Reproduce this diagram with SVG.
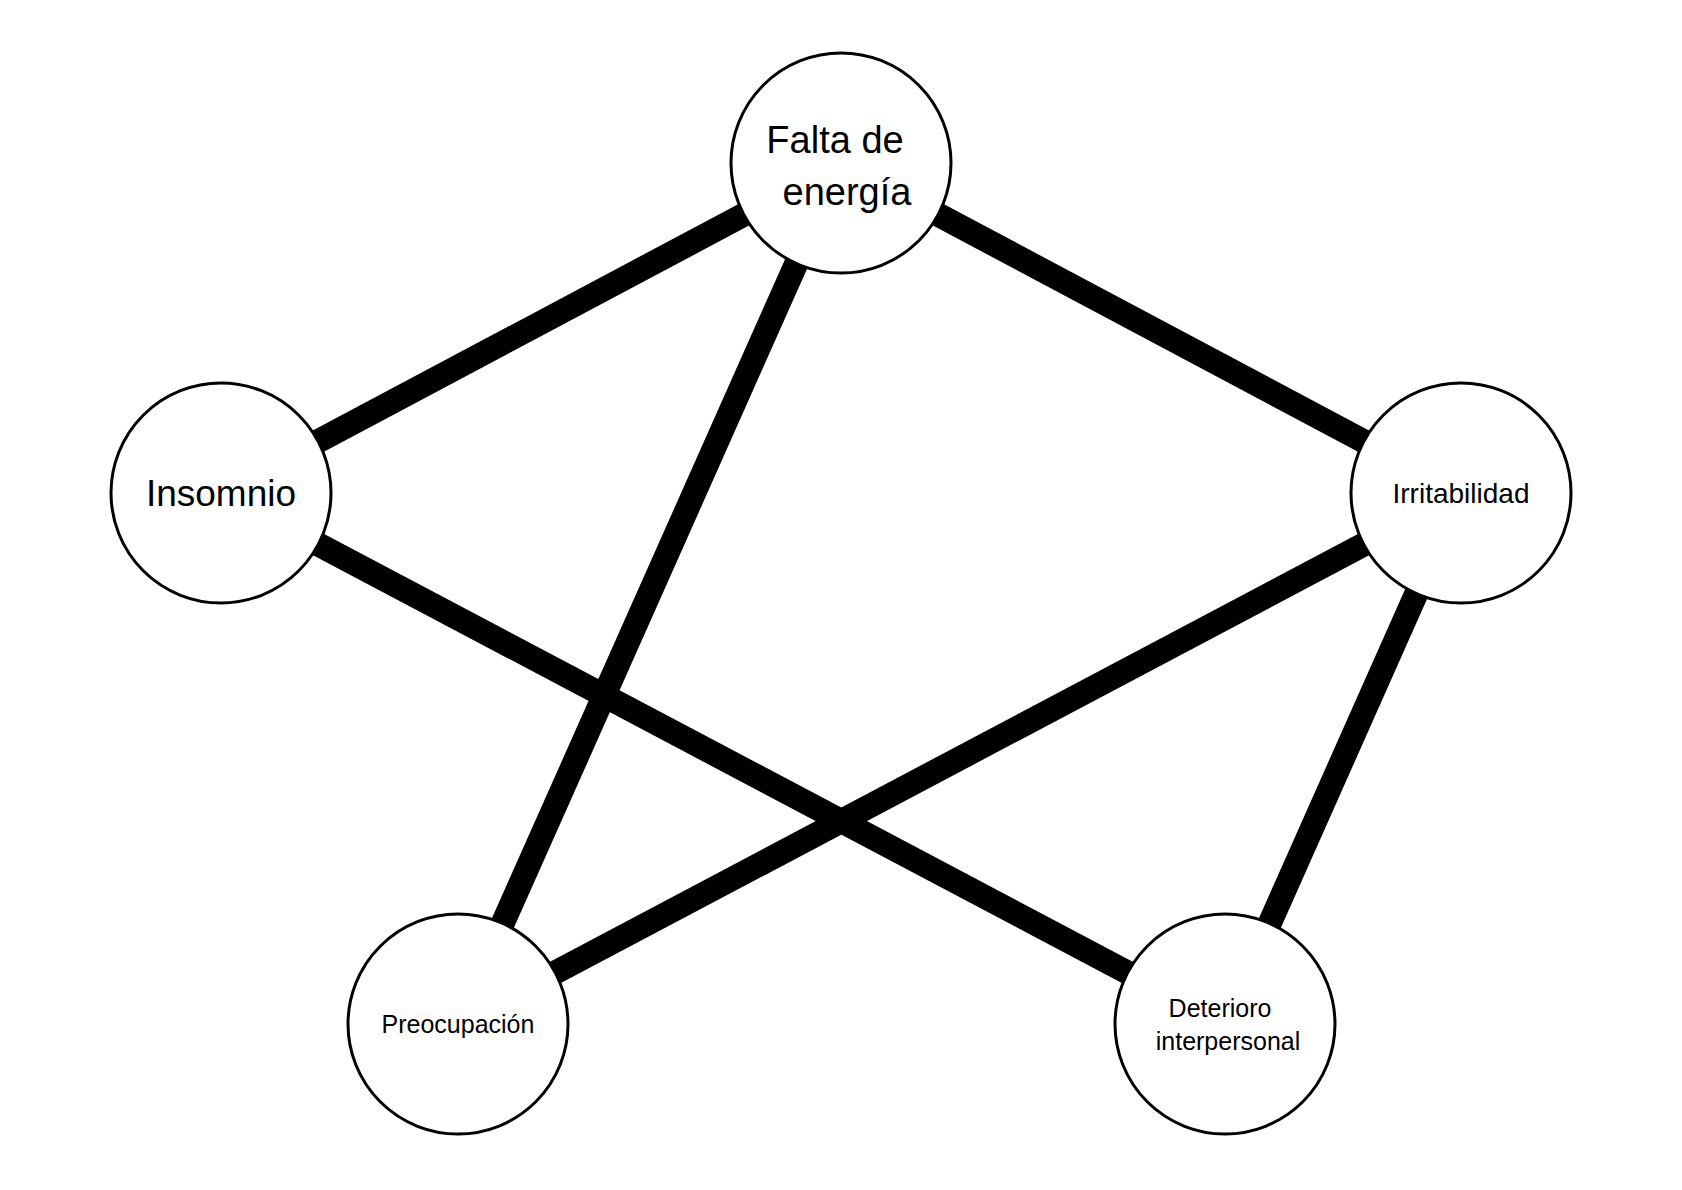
<svg xmlns="http://www.w3.org/2000/svg" width="1682" height="1190" viewBox="0 0 1682 1190">
<style>
.e{stroke:#000;stroke-width:24;stroke-linecap:butt}
.n{fill:#fff;stroke:#000;stroke-width:3}
text{font-family:"Liberation Sans",Arial,sans-serif;text-anchor:middle;fill:#000}
</style>
<rect width="1682" height="1190" fill="#fff"/>
<g id="connectors">
<line class="e" x1="841" y1="163" x2="221" y2="493"/>
<line class="e" x1="841" y1="163" x2="1461" y2="493"/>
<line class="e" x1="841" y1="163" x2="458" y2="1024"/>
<line class="e" x1="221" y1="493" x2="1225" y2="1024"/>
<line class="e" x1="1461" y1="493" x2="458" y2="1024"/>
<line class="e" x1="1461" y1="493" x2="1225" y2="1024"/>
</g>
<g id="falta"><circle class="n" cx="841" cy="163" r="110"/><text x="835" y="153" font-size="38">Falta de</text><text x="847" y="205" font-size="38">energía</text></g>
<g id="insomnio"><circle class="n" cx="221" cy="493" r="110"/><text x="221" y="506" font-size="37">Insomnio</text></g>
<g id="irritabilidad"><circle class="n" cx="1461" cy="493" r="110"/><text x="1461" y="503" font-size="28">Irritabilidad</text></g>
<g id="preocupacion"><circle class="n" cx="458" cy="1024" r="110"/><text x="458" y="1033" font-size="25">Preocupación</text></g>
<g id="deterioro"><circle class="n" cx="1225" cy="1024" r="110"/><text x="1220" y="1017" font-size="25">Deterioro</text><text x="1228" y="1050" font-size="25">interpersonal</text></g>
</svg>
